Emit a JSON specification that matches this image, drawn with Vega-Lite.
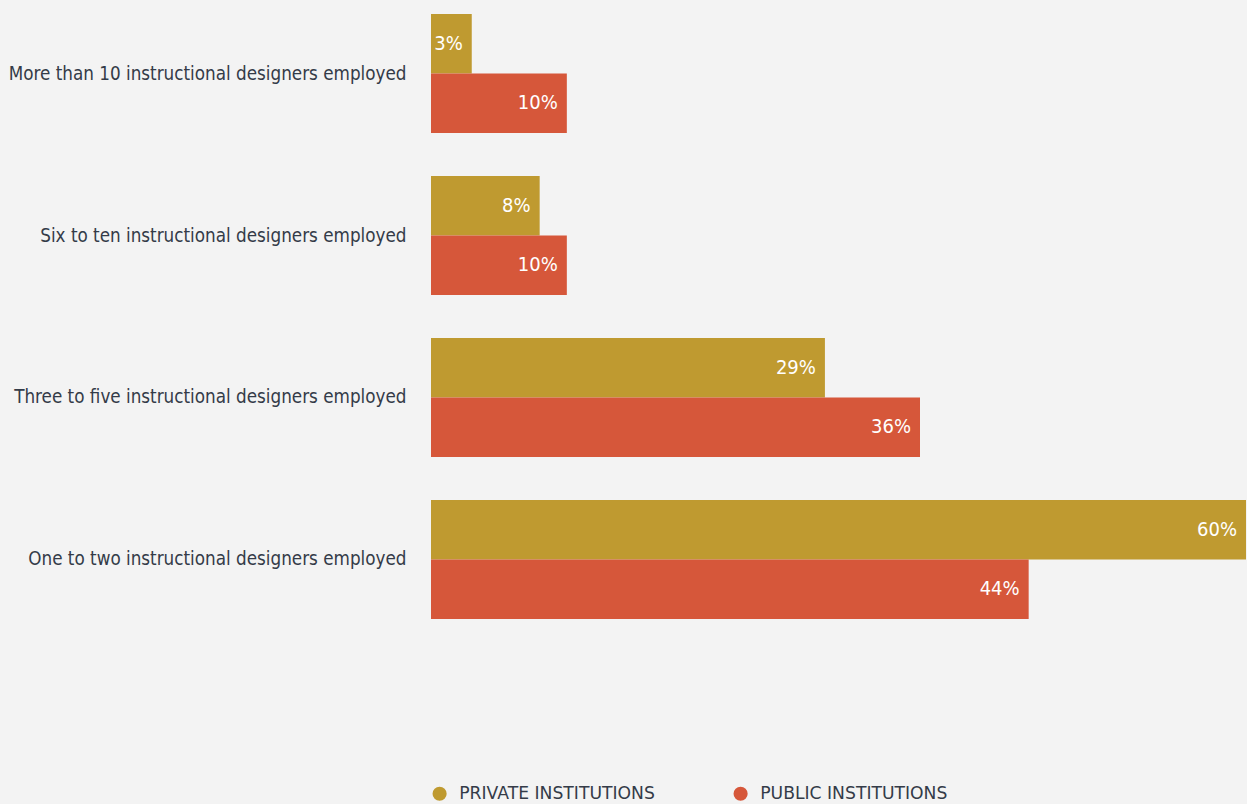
{
  "$schema": "https://vega.github.io/schema/vega-lite/v6.json",
  "autosize": {"type": "none"},
  "padding": {"left": 431, "top": 0, "right": 1, "bottom": 171},
  "width": 815,
  "height": 633,
  "background": "#f3f3f3",
  "config": {
    "view": {"stroke": null},
    "font": "DejaVu Sans Condensed, sans-serif"
  },
  "data": {
    "values": [
      {"category": "More than 10 instructional designers employed", "type": "Private institutions", "value": 0.03},
      {"category": "More than 10 instructional designers employed", "type": "Public institutions", "value": 0.10},
      {"category": "Six to ten instructional designers employed", "type": "Private institutions", "value": 0.08},
      {"category": "Six to ten instructional designers employed", "type": "Public institutions", "value": 0.10},
      {"category": "Three to five instructional designers employed", "type": "Private institutions", "value": 0.29},
      {"category": "Three to five instructional designers employed", "type": "Public institutions", "value": 0.36},
      {"category": "One to two instructional designers employed", "type": "Private institutions", "value": 0.60},
      {"category": "One to two instructional designers employed", "type": "Public institutions", "value": 0.44}
    ]
  },
  "encoding": {
    "y": {
      "field": "category",
      "type": "nominal",
      "sort": null,
      "scale": {"paddingInner": 0.265, "paddingOuter": 0.0864},
      "axis": {
        "title": null,
        "domain": false,
        "ticks": false,
        "tickSize": 0,
        "labelPadding": 25,
        "labelFont": "DejaVu Sans Condensed, sans-serif",
        "labelFontSize": 18.7,
        "labelColor": "#343b48",
        "labelLimit": 500
      }
    },
    "yOffset": {
      "field": "type",
      "type": "nominal",
      "sort": ["Private institutions", "Public institutions"],
      "scale": {"paddingInner": 0, "paddingOuter": 0}
    },
    "x": {
      "field": "value",
      "type": "quantitative",
      "scale": {"domain": [0, 0.6], "nice": false},
      "axis": null
    }
  },
  "layer": [
    {
      "mark": {"type": "bar"},
      "encoding": {
        "color": {
          "field": "type",
          "type": "nominal",
          "scale": {
            "domain": ["Private institutions", "Public institutions"],
            "range": ["#bf9a30", "#d6573a"]
          },
          "legend": {
            "title": null,
            "orient": "none",
            "direction": "horizontal",
            "legendX": 0,
            "legendY": 785,
            "symbolType": "circle",
            "symbolSize": 200,
            "symbolStrokeWidth": 0,
            "symbolOpacity": 1,
            "labelExpr": "upper(datum.label)",
            "labelFont": "DejaVu Sans, sans-serif",
            "labelFontSize": 17.2,
            "labelColor": "#343b48",
            "labelOffset": 11,
            "columnPadding": 77,
            "labelLimit": 400
          }
        }
      }
    },
    {
      "mark": {
        "type": "text",
        "align": "right",
        "baseline": "middle",
        "dx": -9,
        "color": "#ffffff",
        "fontSize": 20,
        "font": "DejaVu Sans Condensed, sans-serif"
      },
      "encoding": {
        "text": {"field": "value", "type": "quantitative", "format": ".0%"},
        "detail": {"field": "type"}
      }
    }
  ]
}
